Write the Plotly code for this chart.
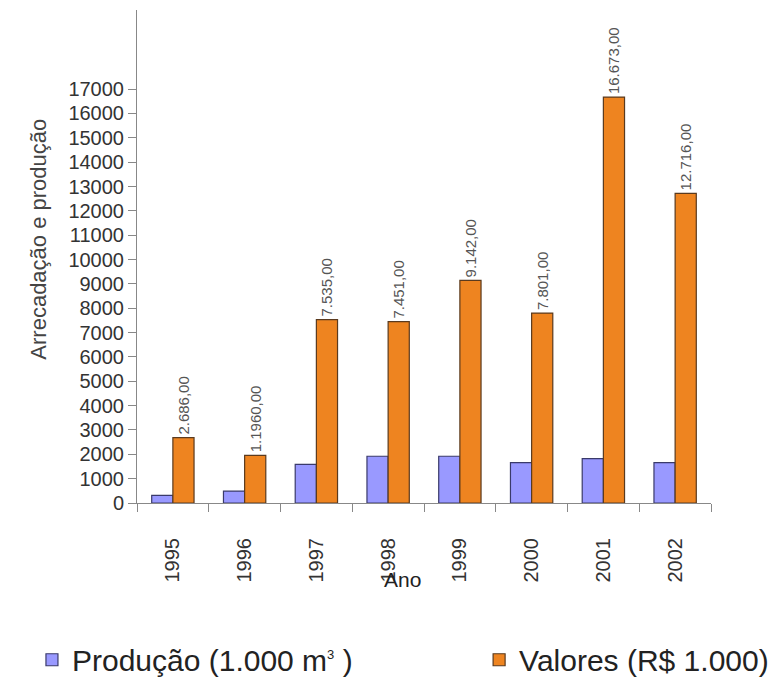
import plotly.graph_objects as go

# Anos e séries
anos = ["1995", "1996", "1997", "1998", "1999", "2000", "2001", "2002"]
producao = [310, 490, 1590, 1920, 1920, 1660, 1820, 1660]
valores = [2686, 1960, 7535, 7451, 9142, 7801, 16673, 12716]
rotulos_valores = ["2.686,00", "1.1960,00", "7.535,00", "7.451,00",
                   "9.142,00", "7.801,00", "16.673,00", "12.716,00"]
y_ticks = list(range(0, 17001, 1000))

FONT = "Liberation Sans, Arial, sans-serif"

fig = go.Figure()
fig.add_trace(go.Bar(
    x=anos, y=producao,
    name="Produção (1.000 m<sup><span style='font-size:13px'>3</span></sup> )",
    marker=dict(color="#9999ff", line=dict(color="#3a3a6a", width=1.2)),
    legend="legend",
))
fig.add_trace(go.Bar(
    x=anos, y=valores, name="Valores (R$ 1.000)",
    marker=dict(color="#ee8420", line=dict(color="#5a3a1e", width=1.2)),
    text=rotulos_valores, textposition="outside", textangle=-90,
    textfont=dict(family=FONT, size=15, color="#555555"),
    constraintext="none", cliponaxis=False,
    legend="legend2",
))

legend_style = dict(
    orientation="h", xanchor="left", yanchor="middle", y=-0.318,
    font=dict(family=FONT, size=30, color="#222222"),
    itemwidth=30, bgcolor="rgba(0,0,0,0)",
)

fig.update_layout(
    width=779, height=677,
    margin=dict(l=137, r=68, t=10, b=174, autoexpand=False),
    paper_bgcolor="white", plot_bgcolor="white",
    barmode="group", bargap=0.41, bargroupgap=0,
    font=dict(family=FONT, color="#333333"),
    showlegend=True,
    legend=dict(x=-0.183, **legend_style),
    legend2=dict(x=0.596, **legend_style),
    xaxis=dict(
        type="category", showgrid=False, showline=True, linecolor="#888888",
        linewidth=1, ticks="outside", tickson="boundaries", ticklen=8,
        tickcolor="#888888", tickangle=-90, ticklabelstandoff=26,
        tickfont=dict(family=FONT, size=20, color="#333333"),
    ),
    yaxis=dict(
        range=[0, 20250], tickvals=y_ticks, tickformat="d",
        showgrid=False, zeroline=False,
        showline=True, linecolor="#888888", linewidth=1,
        ticks="outside", ticklen=8, tickcolor="#888888",
        tickfont=dict(family=FONT, size=20, color="#333333"),
    ),
    annotations=[
        dict(text="Arrecadação e produção", textangle=-90, xref="paper",
             yref="paper", x=-0.197, y=0.535, showarrow=False,
             font=dict(family=FONT, size=22, color="#444444")),
        dict(text="Ano", xref="paper", yref="paper", x=0.463, y=-0.156,
             yanchor="middle", showarrow=False,
             font=dict(family=FONT, size=21, color="#222222")),
    ],
)

fig.write_html("out.html")
